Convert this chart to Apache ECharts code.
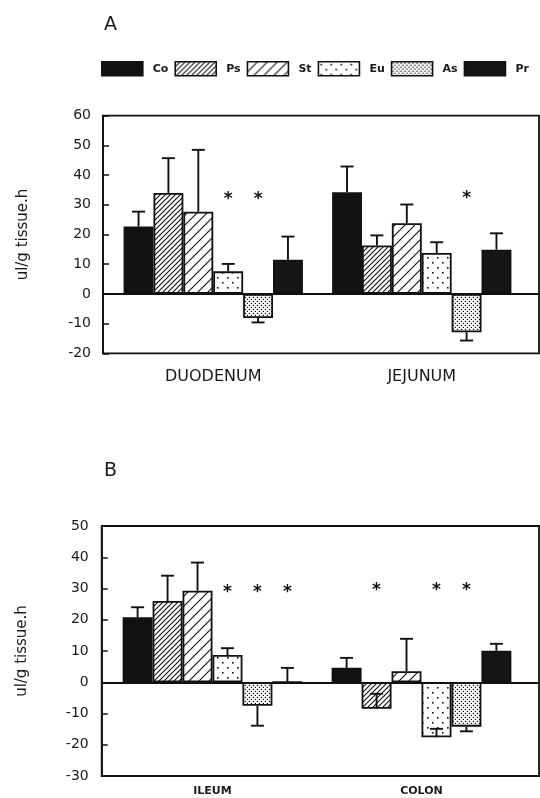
<!DOCTYPE html>
<html><head><meta charset="utf-8">
<script src="https://cdn.jsdelivr.net/npm/echarts@6/dist/echarts.min.js"></script>
<style>html,body{margin:0;padding:0;background:#fff}#c{width:540px;height:798px}</style>
</head><body><div id="c"></div>
<script>
// ---------- DATA ----------
const groups = ['Co', 'Ps', 'St', 'Eu', 'As', 'Pr'];
const categoriesA = ['DUODENUM', 'JEJUNUM'];
const categoriesB = ['ILEUM', 'COLON'];

// Panel A means and error-bar ends
const Co_A = [22.7, 34.2];  const Co_A_err = [27.7, 42.9];
const Ps_A = [34.0, 16.3];  const Ps_A_err = [45.7, 19.7];
const St_A = [27.7, 23.8];  const St_A_err = [48.5, 30.1];
const Eu_A = [7.6, 13.8];   const Eu_A_err = [10.1, 17.4];
const As_A = [-8.1, -12.9]; const As_A_err = [-9.6, -15.7];
const Pr_A = [11.5, 14.9];  const Pr_A_err = [19.3, 20.4];

// Panel B means and error-bar ends
const Co_B = [20.8, 4.6];   const Co_B_err = [24.0, 7.8];
const Ps_B = [26.0, -8.5];  const Ps_B_err = [34.1, -3.7];
const St_B = [29.3, 3.5];   const St_B_err = [38.3, 13.9];
const Eu_B = [8.7, -17.6];  const Eu_B_err = [10.9, -14.9];
const As_B = [-7.5, -14.2]; const As_B_err = [-13.9, -15.7];
const Pr_B = [0, 10.1];     const Pr_B_err = [4.6, 12.3];

// significance stars: [category index, group, value]
const starsA = [[0, 'Eu', 33], [0, 'As', 33], [1, 'As', 33.5]];
const starsB = [[0, 'Eu', 30], [0, 'As', 30], [0, 'Pr', 30], [1, 'Ps', 30.7], [1, 'Eu', 30.7], [1, 'As', 30.7]];

// axis ranges
const yMinA = -20, yMaxA = 60, yStepA = 10;
const yMinB = -30, yMaxB = 50, yStepB = 10;

const yName = 'ul/g tissue.h';

// ---------- PATTERNS ----------
function hatch(step, lw) {
  const c = document.createElement('canvas'); c.width = step; c.height = step;
  const g = c.getContext('2d');
  g.fillStyle = '#fff'; g.fillRect(0, 0, step, step);
  g.strokeStyle = '#111'; g.lineWidth = lw;
  g.beginPath();
  g.moveTo(-1, step + 1); g.lineTo(step + 1, -1);
  g.moveTo(-step - 1, step + 1); g.lineTo(1, -1);
  g.moveTo(step - 1, 2 * step + 1); g.lineTo(2 * step + 1, step - 1);
  g.moveTo(-1, 1); g.lineTo(1, -1);
  g.moveTo(step - 1, step + 1); g.lineTo(step + 1, step - 1);
  g.stroke();
  return { image: c, repeat: 'repeat' };
}
function dots(step, r) {
  const c = document.createElement('canvas'); c.width = step; c.height = step;
  const g = c.getContext('2d');
  g.fillStyle = '#fff'; g.fillRect(0, 0, step, step);
  g.fillStyle = '#111';
  g.fillRect(step * 0.2, step * 0.2, r, r);
  g.fillRect(step * 0.7, step * 0.7, r, r);
  return { image: c, repeat: 'repeat' };
}
const fills = {
  Co: '#111',
  Ps: hatch(5, 1.1),
  St: hatch(10, 1.1),
  Eu: dots(10, 1.6),
  As: dots(4, 1.3),
  Pr: '#161616'
};

const gapFrac = 0.14;
const textColor = '#1a1a1a';

function barSeries(name, data, idx) {
  return {
    name: name, type: 'bar', xAxisIndex: idx, yAxisIndex: idx, data: data,
    barGap: '0%', barCategoryGap: (gapFrac * 100) + '%',
    itemStyle: { color: fills[name], borderColor: '#111', borderWidth: 1.8 },
    z: 2
  };
}
function errSeries(name, means, ends, idx) {
  const gi = groups.indexOf(name);
  return {
    name: 'err_' + name + idx, type: 'custom', xAxisIndex: idx, yAxisIndex: idx, z: 5,
    data: means.map((m, i) => [i, m, ends[i]]),
    renderItem: function (params, api) {
      const cat = api.value(0);
      const bw = api.size([1, 0])[0];
      const barW = bw * (1 - gapFrac) / groups.length;
      const cx = api.coord([cat, 0])[0] + (gi - (groups.length - 1) / 2) * barW;
      const y1 = api.coord([cat, api.value(1)])[1];
      const y2 = api.coord([cat, api.value(2)])[1];
      const st = { stroke: '#111', lineWidth: 1.9 };
      return { type: 'group', children: [
        { type: 'line', shape: { x1: cx, y1: y1, x2: cx, y2: y2 }, style: st },
        { type: 'line', shape: { x1: cx - 6.5, y1: y2, x2: cx + 6.5, y2: y2 }, style: st }
      ] };
    }
  };
}
function starSeries(stars, idx) {
  return {
    name: 'stars' + idx, type: 'custom', xAxisIndex: idx, yAxisIndex: idx, z: 6,
    data: stars.map(s => [s[0], groups.indexOf(s[1]), s[2]]),
    renderItem: function (params, api) {
      const cat = api.value(0), gi = api.value(1);
      const bw = api.size([1, 0])[0];
      const barW = bw * (1 - gapFrac) / groups.length;
      const cx = api.coord([cat, 0])[0] + (gi - (groups.length - 1) / 2) * barW;
      const cy = api.coord([cat, api.value(2)])[1];
      return { type: 'text', x: cx, y: cy + 4,
        style: { text: '*', fill: '#111', fontSize: 17, fontWeight: 'bold',
          fontFamily: 'DejaVu Sans', align: 'center', verticalAlign: 'middle' } };
    }
  };
}

const panels = [
  { frameTop: 115.7, frameBottom: 798 - 353.3, frameLeft: 103, frameRight: 1, innerLeft: 109, innerRight: 14,
    cats: categoriesA, min: yMinA, max: yMaxA, step: yStepA, labelFont: 16, labelBold: 'normal', labelMargin: 16,
    means: { Co: Co_A, Ps: Ps_A, St: St_A, Eu: Eu_A, As: As_A, Pr: Pr_A },
    ends: { Co: Co_A_err, Ps: Ps_A_err, St: St_A_err, Eu: Eu_A_err, As: As_A_err, Pr: Pr_A_err },
    stars: starsA, tickMargin: 12 },
  { frameTop: 526, frameBottom: 798 - 776, frameLeft: 101.7, frameRight: 1, innerLeft: 108, innerRight: 14,
    cats: categoriesB, min: yMinB, max: yMaxB, step: yStepB, labelFont: 11, labelBold: 'bold', labelMargin: 10,
    means: { Co: Co_B, Ps: Ps_B, St: St_B, Eu: Eu_B, As: As_B, Pr: Pr_B },
    ends: { Co: Co_B_err, Ps: Ps_B_err, St: St_B_err, Eu: Eu_B_err, As: As_B_err, Pr: Pr_B_err },
    stars: starsB, tickMargin: 13 }
];

const grid = [], xAxis = [], yAxis = [], series = [];
panels.forEach((p, k) => {
  grid.push({ left: p.frameLeft, right: p.frameRight, top: p.frameTop, bottom: p.frameBottom,
    show: true, borderColor: '#111', borderWidth: 1.8, backgroundColor: 'transparent' });
  grid.push({ left: p.innerLeft, right: p.innerRight, top: p.frameTop, bottom: p.frameBottom });
  const fi = 2 * k, ii = 2 * k + 1;
  xAxis.push({ type: 'category', gridIndex: fi, data: [''],
    axisLine: { show: true, onZero: true, lineStyle: { color: '#111', width: 1.8 } },
    axisTick: { show: false }, axisLabel: { show: false }, splitLine: { show: false } });
  xAxis.push({ type: 'category', gridIndex: ii, data: p.cats,
    axisLine: { show: false, onZero: false }, axisTick: { show: false },
    axisLabel: { show: true, fontSize: p.labelFont, fontWeight: p.labelBold, fontFamily: 'DejaVu Sans',
      color: textColor, margin: p.labelMargin } });
  yAxis.push({ type: 'value', gridIndex: fi, min: p.min, max: p.max, interval: p.step,
    name: yName, nameLocation: 'middle', nameRotate: 90, nameGap: 72,
    nameTextStyle: { fontSize: 15, fontFamily: 'DejaVu Sans', color: textColor },
    axisLine: { show: true, lineStyle: { color: '#111', width: 1.8 } },
    axisTick: { show: true, inside: true, length: 6, lineStyle: { color: '#111', width: 1.5 } },
    axisLabel: { fontSize: 14, fontFamily: 'DejaVu Sans', color: textColor, margin: p.tickMargin },
    splitLine: { show: false } });
  yAxis.push({ type: 'value', gridIndex: ii, min: p.min, max: p.max, interval: p.step, show: false,
    splitLine: { show: false } });
  groups.forEach(gname => {
    series.push(barSeries(gname, p.means[gname], ii));
    series.push(errSeries(gname, p.means[gname], p.ends[gname], ii));
  });
  series.push(starSeries(p.stars, ii));
});

const chart = echarts.init(document.getElementById('c'), null, { renderer: 'canvas' });
chart.setOption({
  animation: false,
  backgroundColor: '#fff',
  title: [
    { text: 'A', left: 99, top: 11, textStyle: { fontSize: 19, fontWeight: 'normal', fontFamily: 'DejaVu Sans', color: textColor } },
    { text: 'B', left: 99, top: 457, textStyle: { fontSize: 19, fontWeight: 'normal', fontFamily: 'DejaVu Sans', color: textColor } }
  ],
  legend: {
    data: groups, left: 101, top: 61, padding: 0, icon: 'rect', itemWidth: 41, itemHeight: 14, itemGap: 6,
    selectedMode: false,
    itemStyle: { borderColor: '#111', borderWidth: 1.6 },
    textStyle: { fontSize: 11, fontWeight: 'bold', fontFamily: 'DejaVu Sans', color: textColor,
      width: 20, padding: [0, 0, 0, 5] }
  },
  grid: grid, xAxis: xAxis, yAxis: yAxis, series: series
});
</script></body></html>
